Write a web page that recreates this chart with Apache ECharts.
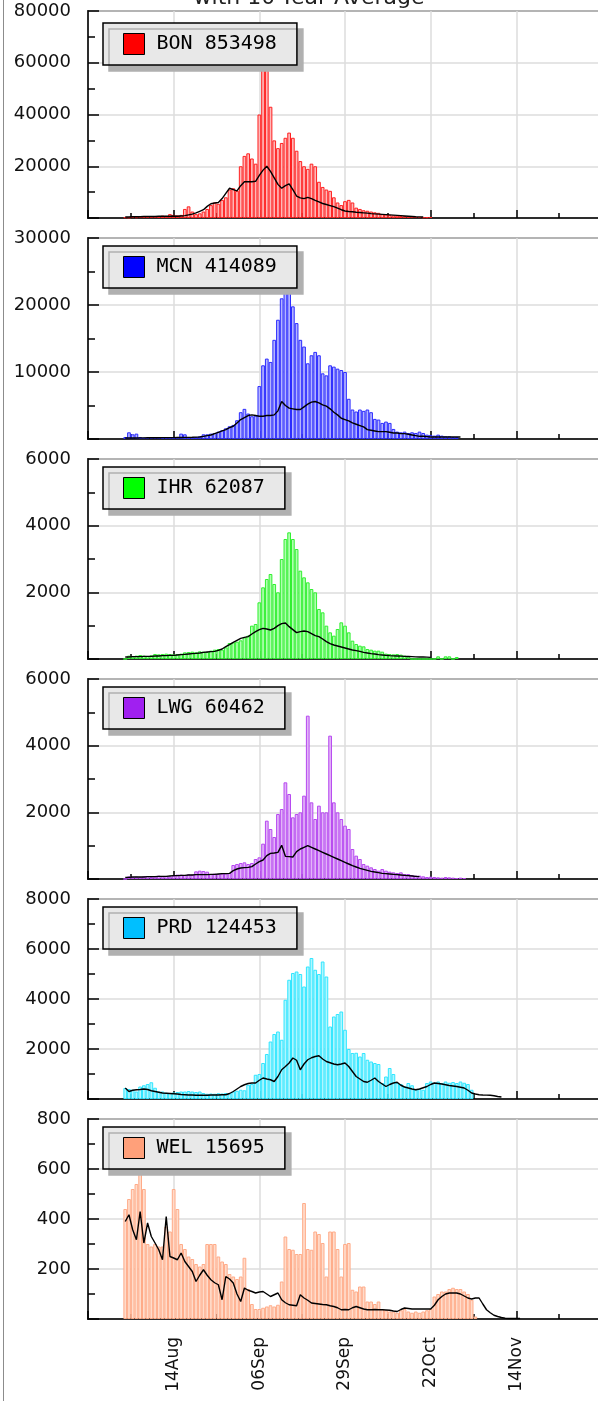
<!DOCTYPE html>
<html>
<head>
<meta charset="utf-8">
<script src="https://cdn.jsdelivr.net/npm/echarts@6/dist/echarts.min.js"></script>
<style>
  html, body { margin: 0; padding: 0; background: #fff; overflow: hidden; }
  #frameLine { position: absolute; left: 3px; top: 0; width: 1px; height: 1401px; background: #8c8c8c; z-index: 2; }
  #chart { position: absolute; left: 0; top: 0; width: 620px; height: 1401px; }
</style>
</head>
<body>
<div id="frameLine"></div>
<div id="chart"></div>
<script>
// day numbers count from 22 Jul (axis start); counts start on 01 Aug
const firstDay = 10;
const monthNames = ['Jan','Feb','Mar','Apr','May','Jun','Jul','Aug','Sep','Oct','Nov','Dec'];

const dams = ['BON', 'MCN', 'IHR', 'LWG', 'PRD', 'WEL'];
const totals = [853498, 414089, 62087, 60462, 124453, 15695];
const yMax = [80000, 30000, 6000, 6000, 8000, 800];
const yStep = [20000, 10000, 2000, 2000, 2000, 200];

const bonCounts = [300, 200, 400, 300, 500, 400, 600, 500, 400, 700,
  900, 800, 1500, 1200, 1000, 1200, 3500, 4500, 2500, 1500,
  1800, 2500, 3500, 5000, 6000, 5500, 7000, 8000, 11000, 11500,
  10500, 20000, 24000, 25000, 23000, 21000, 40000, 62000, 58000, 43000,
  30000, 27000, 29000, 31000, 33000, 31000, 26000, 22000, 20000, 19000,
  21000, 20000, 14000, 12000, 11000, 10500, 8000, 6000, 5000, 6500,
  7000, 6000, 4000, 3500, 3000, 2800, 2500, 2200, 2000, 1500,
  1400, 1200, 1000, 900, 800, 700, 600, 500, 400, 400,
  300, 300, 400];
const bonAvg = [400, 400, 500, 500, 500, 600, 600, 600, 600, 700,
  700, 700, 700, 800, 700, 800, 900, 1200, 1500, 2000,
  2600, 3200, 4500, 5500, 5800, 6000, 7500, 9500, 11500, 11000,
  10500, 12500, 14000, 14000, 14000, 14200, 16500, 18500, 20000, 18000,
  15500, 13000, 11500, 12500, 13200, 11000, 8500, 7800, 7500, 8000,
  7500, 6800, 6200, 5600, 5200, 4800, 4400, 3800, 3200, 2700,
  2500, 2400, 2200, 2100, 2000, 1900, 1700, 1600, 1500, 1400,
  1300, 1200, 1100, 1000, 900, 800, 700, 600, 500, 450,
  400];

const mcnCounts = [300, 1000, 700, 800, 300, 200, 200, 150, 150, 200,
  200, 150, 200, 250, 300, 800, 700, 300, 300, 300,
  400, 700, 700, 800, 900, 1100, 1300, 1600, 1900, 2100,
  2800, 4000, 4500, 3800, 3400, 3500, 7900, 11000, 12000, 11500,
  14800, 17800, 21000, 22500, 22000, 19800, 17300, 14800, 13800, 11300,
  12500, 13000, 12500, 9800, 9500, 11000, 10800, 10500, 10300, 10000,
  6000, 4400, 4100, 4400, 4200, 4400, 4000, 3000, 2900, 2400,
  2600, 2400, 1500, 1100, 1000, 1100, 900, 1000, 900, 1100,
  900, 650, 600, 500, 650, 500, 400, 400, 300, 300];
const mcnAvg = [150, 150, 160, 160, 170, 170, 180, 180, 190, 190,
  200, 200, 210, 210, 220, 230, 240, 250, 260, 280,
  300, 400, 500, 600, 800, 1000, 1200, 1400, 1700, 1900,
  2400, 2900, 3200, 3500, 3600, 3500, 3400, 3400, 3500, 3500,
  3600, 4200, 5600, 5000, 4600, 4500, 4400, 4400, 4800, 5200,
  5500, 5600, 5400, 5100, 4900, 4500, 4000, 3600, 3100, 2900,
  2700, 2400, 2200, 2000, 1800, 1400, 1300, 1200, 1100, 1100,
  1100, 1000, 900, 900, 800, 800, 700, 600, 500, 400,
  400, 350, 300, 300, 300, 300, 300, 300, 300, 300, 300];

const ihrCounts = [0, 100, 80, 100, 120, 100, 90, 110, 150, 140,
  150, 160, 150, 140, 150, 160, 200, 210, 220, 200,
  230, 220, 210, 250, 280, 300, 280, 350, 480, 500,
  520, 560, 650, 700, 1000, 1050, 1700, 2150, 2400, 2550,
  2250, 2000, 3000, 3600, 3800, 3600, 3300, 2650, 2450, 2300,
  2100, 2000, 1500, 1400, 1000, 800, 700, 900, 1100, 1000,
  800, 550, 450, 400, 380, 300, 280, 250, 250, 220,
  160, 150, 140, 150, 130, 100, 80, 0, 0, 0,
  0, 0, 0, 0, 80, 0, 80, 80, 0, 60];
const ihrAvg = [60, 60, 70, 70, 70, 80, 80, 80, 90, 90,
  100, 100, 110, 110, 120, 130, 140, 150, 160, 170,
  180, 200, 210, 220, 230, 260, 300, 370, 430, 500,
  560, 620, 650, 670, 750, 820, 880, 920, 900, 870,
  920, 1000, 1060, 1080, 970, 880, 790, 820, 840, 820,
  760, 700, 670, 600, 520, 460, 420, 390, 360, 330,
  300, 270, 250, 230, 200, 180, 160, 150, 130, 120,
  110, 100, 95, 90, 85, 80, 75, 70, 65, 60,
  60, 55, 50];

const lwgCounts = [0, 80, 60, 70, 60, 80, 90, 60, 70, 100,
  80, 90, 70, 100, 130, 130, 120, 140, 130, 230,
  250, 240, 220, 150, 160, 150, 160, 170, 180, 420,
  450, 480, 500, 450, 480, 600, 650, 1060, 1750, 1500,
  1260, 1950, 2100, 2900, 2550, 1850, 1950, 2000, 2500, 4900,
  2300, 1800, 2200, 2000, 2000, 4300, 2300, 2000, 1800, 1600,
  1500, 900, 700, 600, 450, 400, 350, 300, 250, 300,
  250, 220, 200, 180, 200, 150, 150, 120, 100, 100,
  80, 60, 70, 60, 50, 40, 60, 50, 40, 30,
  40, 30];
const lwgAvg = [50, 50, 60, 60, 60, 60, 70, 70, 70, 80,
  80, 80, 90, 100, 100, 110, 110, 120, 120, 130,
  130, 130, 130, 140, 140, 150, 160, 160, 170, 250,
  300, 330, 340, 350, 370, 450, 520, 570, 700, 770,
  780, 800, 1010, 680, 670, 660, 820, 900, 950, 1000,
  950, 900, 850, 800, 750, 700, 650, 600, 550, 500,
  450, 400, 360, 320, 290, 260, 230, 210, 190, 170,
  160, 150, 140, 130, 120, 110, 100, 90, 80, 70];

const prdCounts = [440, 400, 370, 300, 500, 550, 600, 670, 450, 300,
  300, 250, 240, 260, 280, 300, 300, 320, 300, 280,
  300, 240, 210, 220, 210, 230, 220, 240, 230, 300,
  330, 370, 350, 570, 600, 970, 1000, 1440, 1800, 2300,
  2600, 2700, 2370, 3970, 4770, 5040, 5100, 5000, 4500, 5300,
  5640, 5170, 5000, 5500, 4900, 2900, 3300, 3400, 3500, 2770,
  2000, 1840, 1850, 1700, 1840, 1570, 1500, 1440, 1400, 640,
  900, 1240, 1000, 640, 600, 500, 640, 550, 370, 400,
  370, 640, 700, 650, 700, 640, 700, 650, 680, 640,
  700, 650, 600, 370];
const prdAvg = [440, 300, 350, 370, 380, 400, 380, 330, 300, 270,
  240, 230, 220, 210, 200, 180, 170, 160, 160, 150,
  150, 150, 150, 160, 160, 160, 170, 170, 220, 300,
  400, 500, 570, 620, 640, 640, 750, 840, 800, 770,
  700, 900, 1170, 1300, 1440, 1640, 1550, 1170, 1400, 1570,
  1650, 1700, 1730, 1600, 1500, 1450, 1400, 1370, 1400, 1440,
  1300, 1100, 900, 800, 700, 670, 750, 840, 700, 600,
  500, 580, 640, 670, 550, 480, 440, 400, 370, 400,
  450, 500, 580, 640, 620, 600, 570, 540, 520, 500,
  470, 440, 350, 240, 200, 170, 160, 155, 150, 130,
  100, 80];

const welCounts = [440, 480, 520, 540, 600, 520, 300, 290, 300, 290,
  290, 370, 350, 520, 440, 300, 280, 250, 240, 220,
  210, 220, 300, 300, 300, 250, 230, 220, 180, 170,
  160, 170, 245, 120, 60, 40, 40, 45, 50, 55,
  50, 57, 150, 330, 280, 277, 260, 260, 464, 280,
  277, 350, 340, 304, 170, 350, 350, 280, 170, 300,
  304, 117, 110, 130, 130, 70, 70, 60, 70, 40,
  35, 30, 30, 25, 35, 40, 30, 25, 30, 25,
  30, 35, 40, 90, 100, 110, 110, 120, 125, 120,
  120, 110, 100, 77, 10];
const welAvg = [390, 417, 357, 317, 430, 304, 384, 330, 304, 277,
  237, 410, 250, 244, 237, 264, 230, 210, 190, 150,
  175, 197, 175, 157, 145, 137, 77, 170, 160, 144,
  100, 70, 124, 115, 110, 104, 108, 110, 100, 90,
  97, 104, 77, 65, 57, 55, 53, 97, 84, 75,
  64, 62, 60, 58, 57, 53, 50, 45, 37, 38,
  37, 45, 50, 45, 40, 37, 37, 38, 37, 37,
  36, 35, 32, 30, 38, 44, 42, 40, 40, 40,
  40, 40, 40, 55, 77, 90, 100, 104, 104, 104,
  100, 92, 84, 80, 84, 84, 60, 37, 25, 15,
  10, 6, 3, 2, 2, 2, 2];

const countSets = [bonCounts, mcnCounts, ihrCounts, lwgCounts, prdCounts, welCounts];
const avgSets = [bonAvg, mcnAvg, ihrAvg, lwgAvg, prdAvg, welAvg];

// styles
const baseColors = ['#ff0000', '#0000ff', '#00ff00', '#a020f0', '#00bfff', '#ffa07a'];
const barEdge = ['#ff2020', '#2b2bff', '#30f030', '#b648f0', '#30e6ff', '#ffab88'];
const barFill = ['#ffb8b8', '#b4b4ff', '#b0ffb0', '#e2b4f8', '#b0f6ff', '#ffdccb'];
const panelTop = [11, 238, 459, 679, 899, 1119];
const panelHeight = [207, 201, 200, 200, 200, 200];

const myChart = echarts.init(document.getElementById('chart'));

function dayLabel(v) {
  const d = new Date(Date.UTC(2023, 6, 22 + v));
  const dd = d.getUTCDate();
  return (dd < 10 ? '0' + dd : '' + dd) + monthNames[d.getUTCMonth()];
}

const grids = [], xAxes = [], yAxes = [], series = [], legends = [];

dams.forEach((name, i) => {
  grids.push({
    left: 88, right: 18, top: panelTop[i], height: panelHeight[i],
    show: true, borderColor: '#000', borderWidth: 1.5, backgroundColor: '#fff'
  });
  const last = i === dams.length - 1;
  xAxes.push({
    type: 'value', gridIndex: i, min: 0, max: 138, interval: 23,
    axisLine: { onZero: false, lineStyle: { color: '#000', width: 1.5 } },
    axisTick: { inside: true, length: 8, lineStyle: { color: '#000', width: 1.5 } },
    minorTick: { show: true, splitNumber: 2, length: 5, lineStyle: { color: '#000', width: 1.5 } },
    splitLine: { show: true, lineStyle: { color: '#dcdcdc', width: 1.5 } },
    axisLabel: {
      show: last, rotate: 90, margin: 18, showMinLabel: false, showMaxLabel: false,
      fontFamily: 'DejaVu Sans', fontSize: 17, color: '#111',
      formatter: dayLabel
    }
  });
  yAxes.push({
    type: 'value', gridIndex: i, min: 0, max: yMax[i], interval: yStep[i],
    axisLine: { show: true, lineStyle: { color: '#000', width: 1.5 } },
    axisTick: { show: true, inside: true, length: 11, lineStyle: { color: '#000', width: 1.5 } },
    minorTick: { show: true, splitNumber: 2, length: 7, lineStyle: { color: '#000', width: 1.5 } },
    splitLine: { show: true, lineStyle: { color: '#dcdcdc', width: 1.5 } },
    axisLabel: {
      showMinLabel: false, margin: 17,
      fontFamily: 'DejaVu Sans', fontSize: 18, color: '#111',
      formatter: (v) => String(v)
    }
  });
  series.push({
    name: name, type: 'bar', xAxisIndex: i, yAxisIndex: i,
    barWidth: 3.72,
    itemStyle: { color: barFill[i], borderColor: barEdge[i], borderWidth: 1 },
    data: countSets[i].map((v, k) => [firstDay + k, v]),
    z: 2
  });
  series.push({
    name: name + ' avg', type: 'line', xAxisIndex: i, yAxisIndex: i,
    showSymbol: false, symbol: 'none',
    lineStyle: { color: '#000', width: 1.4 },
    data: avgSets[i].map((v, k) => [firstDay + k, v]),
    z: 3
  });
  legends.push({
    data: [{ name: name, icon: 'rect', itemStyle: { color: baseColors[i], borderColor: '#000', borderWidth: 1 } }],
    left: 103, top: panelTop[i] + (i === 0 ? 12 : 8),
    orient: 'horizontal', selectedMode: false,
    backgroundColor: '#e8e8e8', borderColor: '#000', borderWidth: 1.5,
    padding: [10, 20, 10, 20],
    shadowColor: '#b0b0b0', shadowBlur: 0, shadowOffsetX: 6, shadowOffsetY: 6,
    itemWidth: 21, itemHeight: 21,
    textStyle: { fontFamily: 'DejaVu Sans Mono', fontSize: 20, color: '#000', padding: [0, 0, 0, 7] },
    formatter: (n) => n + ' ' + totals[i]
  });
});

const option = {
  animation: false,
  backgroundColor: '#fff',
  title: {
    text: 'with 10-Year Average', left: 309, textAlign: 'center', top: -13, padding: 0,
    textStyle: { fontFamily: 'DejaVu Sans', fontSize: 22, fontWeight: 'normal', color: '#222' }
  },
  grid: grids,
  xAxis: xAxes,
  yAxis: yAxes,
  legend: legends,
  series: series
};
myChart.setOption(option);
</script>
</body>
</html>
